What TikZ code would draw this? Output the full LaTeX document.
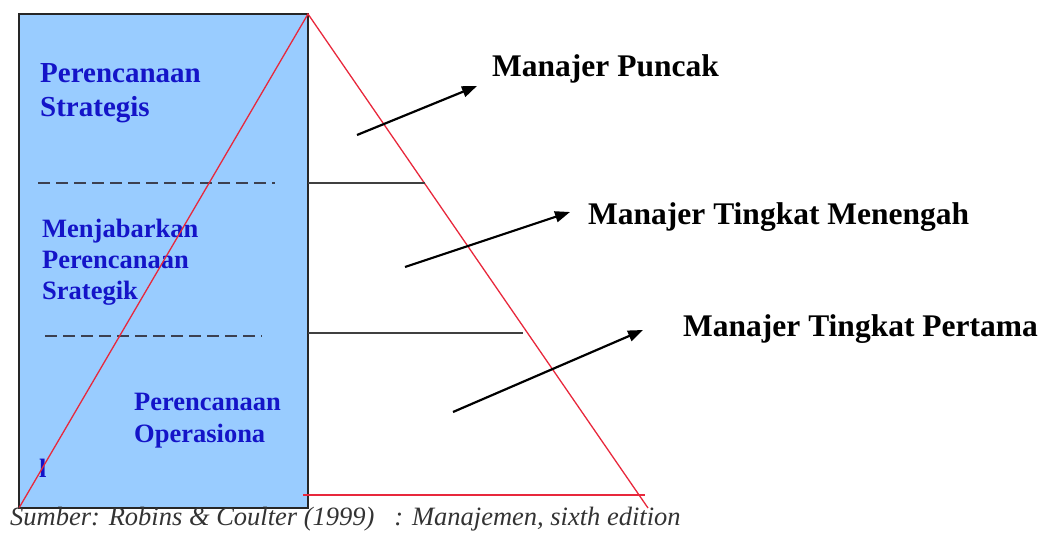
\documentclass[tikz,border=0pt]{standalone}
\usepackage{fontspec}
\setmainfont{Liberation Serif}
\usetikzlibrary{arrows.meta}
\definecolor{boxblue}{RGB}{153,204,255}
\definecolor{txtblue}{RGB}{20,20,200}
\definecolor{trired}{RGB}{232,40,60}
\definecolor{sepgray}{RGB}{60,64,80}
\newcommand\mylines[1]{\begin{tabular}[t]{@{}l@{}}#1\end{tabular}}
\begin{document}
\begin{tikzpicture}[x=1pt,y=-1pt,
  planbox/.style={draw=black!85,line width=1.8pt,fill=boxblue},
  sepline/.style={draw=sepgray,line width=1.4pt,dash pattern=on 12pt off 6pt},
  bluetext/.style={anchor=base west,inner sep=0pt,text=txtblue,font=\bfseries},
  redline/.style={draw=trired,line width=1.3pt},
  levelline/.style={draw=black!75,line width=2pt},
  pointer/.style={draw=black,line width=2.2pt,-{Triangle[length=15pt,width=11pt]}},
  level/.style={anchor=base west,inner sep=0pt,font=\fontsize{31.5}{36}\selectfont\bfseries}]
\useasboundingbox (0,0) rectangle (1046,534);
% box
\coordinate (rtl) at (19,14);
\coordinate (rbr) at (308,508);
\coordinate (rbl) at (19,508);
\coordinate (apex) at (308,14);
\coordinate (tbr) at (648,508);
\draw[planbox] (rtl) rectangle (rbr);
% dashed separators
\coordinate (d1a) at (38,183); \coordinate (d1b) at (275,183);
\coordinate (d2a) at (45,336); \coordinate (d2b) at (262,336);
\draw[sepline] (d1a) -- (d1b);
\draw[sepline] (d2a) -- (d2b);
% blue texts
\node[bluetext,font=\fontsize{29}{34}\selectfont\bfseries] (ps) at (40,83) {\mylines{Perencanaan\\Strategis}};
\node[bluetext,font=\fontsize{26.5}{31}\selectfont\bfseries] (mp) at (42,238) {\mylines{Menjabarkan\\Perencanaan\\Srategik}};
\node[bluetext,font=\fontsize{26.5}{32}\selectfont\bfseries] (po) at (134,410) {\mylines{Perencanaan\\Operasiona}};
\node[bluetext,font=\fontsize{26.5}{32}\selectfont\bfseries] (pl) at (39,477) {l};
% triangle
\draw[redline] (rbl) -- (apex) -- (tbr);
\coordinate (b1) at (303,495); \coordinate (b2) at (645,495);
\draw[redline] (b1) -- (b2);
% level lines
\coordinate (h1a) at (308,183); \coordinate (h1b) at (425,183);
\coordinate (h2a) at (308,333); \coordinate (h2b) at (523,333);
\draw[levelline] (h1a) -- (h1b);
\draw[levelline] (h2a) -- (h2b);
% labels
\node[level] (top) at (492,77) {Manajer Puncak};
\node[level] (mid) at (588,225) {Manajer Tingkat Menengah};
\node[level] (first) at (683,337) {Manajer Tingkat Pertama};
% arrows
\coordinate (a1s) at (357,135); \coordinate (a1e) at (477,86);
\coordinate (a2s) at (405,267); \coordinate (a2e) at (570,212);
\coordinate (a3s) at (453,412); \coordinate (a3e) at (643,330);
\draw[pointer] (a1s) -- (a1e);
\draw[pointer] (a2s) -- (a2e);
\draw[pointer] (a3s) -- (a3e);
% caption
\node[anchor=base west,inner sep=0pt,text=black!80,font=\fontsize{26.5}{30}\selectfont\itshape] (src) at (10,525) {Sumber: Robins \& Coulter (1999)\ \ \ : Manajemen, sixth edition};
\end{tikzpicture}
\end{document}
